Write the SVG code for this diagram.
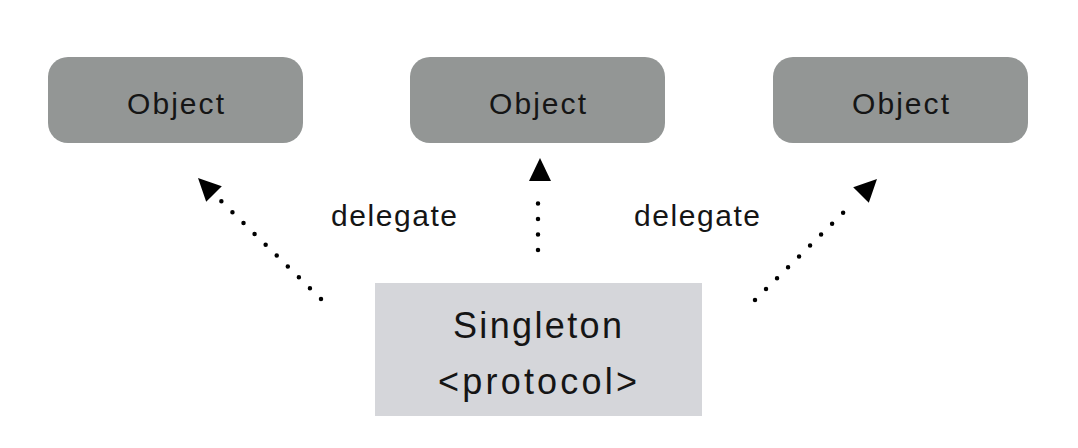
<svg xmlns="http://www.w3.org/2000/svg" width="1078" height="448" viewBox="0 0 1078 448">
<style>
.obj{fill:#939695;}
.single{fill:#d5d6da;}
.t{font-family:"Liberation Sans",Arial,sans-serif;fill:#151515;text-anchor:middle;}
.dot{fill:none;stroke:#000;stroke-width:4.5;stroke-linecap:round;stroke-dasharray:0 15.5;}
.head{fill:#000;}
</style>
<rect width="1078" height="448" fill="#fff"/>
<g id="object-left">
<rect class="obj" x="48" y="57" width="255" height="86" rx="20"/>
<text class="t" x="175.5" y="114" font-size="30" textLength="97" lengthAdjust="spacing">Object</text>
</g>
<g id="object-middle">
<rect class="obj" x="410" y="57" width="255" height="86" rx="20"/>
<text class="t" x="537.5" y="114" font-size="30" textLength="97" lengthAdjust="spacing">Object</text>
</g>
<g id="object-right">
<rect class="obj" x="773" y="57" width="255" height="86" rx="20"/>
<text class="t" x="900.5" y="114" font-size="30" textLength="97" lengthAdjust="spacing">Object</text>
</g>
<g id="singleton">
<rect class="single" x="375" y="283" width="327" height="133"/>
<text class="t" x="537.5" y="338" font-size="36" textLength="169" lengthAdjust="spacing">Singleton</text>
<text class="t" x="537.5" y="394" font-size="36" textLength="199" lengthAdjust="spacing">&lt;protocol&gt;</text>
</g>
<g id="connectors">
<path class="dot" d="M321,299 L221,201"/>
<polygon class="head" points="198,178 221.8,186.2 206.2,201.8"/>
<path class="dot" d="M538,250 L538,188"/>
<polygon class="head" points="540,158 551,181 529,181"/>
<path class="dot" d="M755,300 L854,202"/>
<polygon class="head" points="877,179 868.8,202.8 853.2,187.2"/>
<text class="t" x="394" y="226" font-size="30" textLength="126" lengthAdjust="spacing">delegate</text>
<text class="t" x="697" y="226" font-size="30" textLength="126" lengthAdjust="spacing">delegate</text>
</g>
</svg>
